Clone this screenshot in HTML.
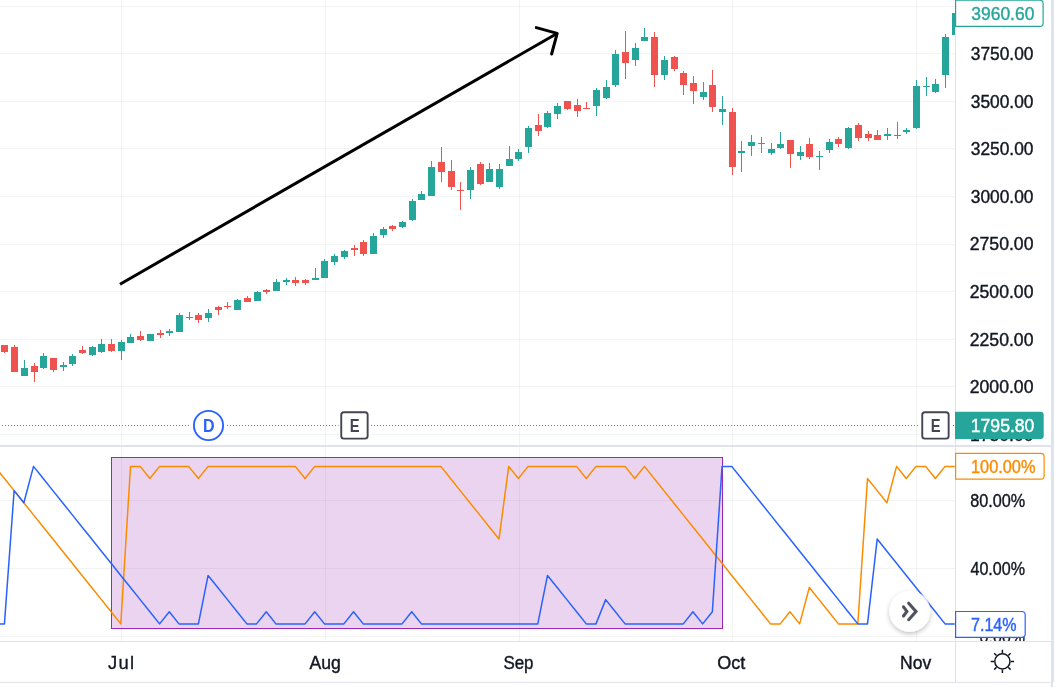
<!DOCTYPE html>
<html><head><meta charset="utf-8"><title>Chart</title>
<style>
html,body{margin:0;padding:0;background:#fff;}
body{width:1054px;height:687px;overflow:hidden;position:relative;font-family:"Liberation Sans",sans-serif;}
svg{position:absolute;left:0;top:0;display:block}
svg text{font-family:"Liberation Sans",sans-serif;}
</style></head><body>
<svg width="1054" height="687" viewBox="0 0 1054 687">
<defs>
<clipPath id="cp"><rect x="0" y="0" width="955" height="445"/></clipPath>
<clipPath id="ip"><rect x="0" y="447" width="955" height="194"/></clipPath>
<clipPath id="bc"><circle cx="909.8" cy="611.3" r="20.5"/></clipPath>
<clipPath id="a1"><rect x="956" y="0" width="95" height="445"/></clipPath>
<clipPath id="a2"><rect x="956" y="447" width="95" height="194"/></clipPath>
<filter id="sh" x="-40%" y="-40%" width="180%" height="180%"><feGaussianBlur in="SourceAlpha" stdDeviation="2.4"/><feOffset dy="1.5"/><feComponentTransfer><feFuncA type="linear" slope="0.25"/></feComponentTransfer><feMerge><feMergeNode/><feMergeNode in="SourceGraphic"/></feMerge></filter>
</defs>
<rect width="1054" height="687" fill="#fff"/>
<g fill="#2a2e39" fill-opacity="0.06" shape-rendering="crispEdges"><rect x="0" y="6" width="955" height="1"/><rect x="0" y="53" width="955" height="1"/><rect x="0" y="101" width="955" height="1"/><rect x="0" y="148" width="955" height="1"/><rect x="0" y="196" width="955" height="1"/><rect x="0" y="244" width="955" height="1"/><rect x="0" y="291" width="955" height="1"/><rect x="0" y="339" width="955" height="1"/><rect x="0" y="386" width="955" height="1"/><rect x="0" y="434" width="955" height="1"/><rect x="0" y="500" width="955" height="1"/><rect x="0" y="568" width="955" height="1"/><rect x="0" y="636" width="955" height="1"/><rect x="121" y="0" width="1" height="641"/><rect x="325" y="0" width="1" height="641"/><rect x="519" y="0" width="1" height="641"/><rect x="732" y="0" width="1" height="641"/><rect x="916" y="0" width="1" height="641"/></g>
<!-- dotted last-price line -->
<line x1="2" y1="425.5" x2="955" y2="425.5" stroke="#26a69a" stroke-width="1" stroke-dasharray="1 2" shape-rendering="crispEdges"/>
<g clip-path="url(#cp)" shape-rendering="crispEdges">
<path fill="#26a69a" d="M24 360h1v16h-1zM43 353h1v16h-1zM63 362h1v9h-1zM72 354h1v12h-1zM92 346h1v10h-1zM101 339h1v14h-1zM121 340h1v20h-1zM130 334h1v9h-1zM150 334h1v7h-1zM169 329h1v7h-1zM179 313h1v19h-1zM189 312h1v8h-1zM208 309h1v13h-1zM237 299h1v11h-1zM257 291h1v10h-1zM276 279h1v12h-1zM286 278h1v7h-1zM315 268h1v12h-1zM324 259h1v19h-1zM334 254h1v11h-1zM344 250h1v9h-1zM373 233h1v21h-1zM383 227h1v11h-1zM402 221h1v7h-1zM412 199h1v22h-1zM421 191h1v9h-1zM431 161h1v35h-1zM470 167h1v32h-1zM489 163h1v19h-1zM499 164h1v25h-1zM509 146h1v20h-1zM518 149h1v12h-1zM528 126h1v27h-1zM547 111h1v17h-1zM557 103h1v16h-1zM596 88h1v28h-1zM606 80h1v19h-1zM615 50h1v37h-1zM635 43h1v23h-1zM644 28h1v13h-1zM664 56h1v24h-1zM703 82h1v18h-1zM722 96h1v29h-1zM741 141h1v31h-1zM751 135h1v21h-1zM771 143h1v12h-1zM780 132h1v17h-1zM800 146h1v14h-1zM819 151h1v19h-1zM829 139h1v14h-1zM848 127h1v22h-1zM887 128h1v12h-1zM897 122h1v17h-1zM906 128h1v6h-1zM916 80h1v49h-1zM926 77h1v19h-1zM935 79h1v14h-1zM945 34h1v54h-1zM955 13h1v22h-1zM21 368h7v8h-7zM40 356h7v12h-7zM60 365h7v2h-7zM69 356h7v8h-7zM89 347h7v8h-7zM98 344h7v8h-7zM118 342h7v9h-7zM127 337h7v6h-7zM147 334h7v7h-7zM166 331h7v2h-7zM176 315h7v17h-7zM186 317h7v1h-7zM205 313h7v5h-7zM234 300h7v10h-7zM254 292h7v9h-7zM273 282h7v9h-7zM283 280h7v2h-7zM312 278h7v2h-7zM321 261h7v17h-7zM331 256h7v6h-7zM341 251h7v6h-7zM370 236h7v18h-7zM380 229h7v6h-7zM399 222h7v5h-7zM409 201h7v19h-7zM418 194h7v6h-7zM428 167h7v29h-7zM467 170h7v20h-7zM486 169h7v13h-7zM496 169h7v18h-7zM506 159h7v7h-7zM515 152h7v7h-7zM525 128h7v19h-7zM544 113h7v14h-7zM554 106h7v8h-7zM593 90h7v16h-7zM603 87h7v11h-7zM612 54h7v31h-7zM632 48h7v12h-7zM641 37h7v4h-7zM661 60h7v15h-7zM700 92h7v5h-7zM719 109h7v3h-7zM738 151h7v2h-7zM748 142h7v4h-7zM768 149h7v4h-7zM777 144h7v4h-7zM797 152h7v4h-7zM816 156h7v1h-7zM826 142h7v8h-7zM845 128h7v20h-7zM884 134h7v2h-7zM894 135h7v1h-7zM903 130h7v2h-7zM913 86h7v42h-7zM923 86h7v1h-7zM932 84h7v8h-7zM942 37h7v38h-7zM952 13h7v22h-7z"/>
<path fill="#ef5350" d="M4 345h1v8h-1zM14 345h1v27h-1zM34 363h1v19h-1zM53 358h1v14h-1zM82 346h1v8h-1zM111 339h1v13h-1zM140 331h1v10h-1zM160 330h1v8h-1zM198 313h1v10h-1zM218 306h1v9h-1zM227 302h1v7h-1zM247 296h1v6h-1zM266 289h1v5h-1zM295 277h1v9h-1zM305 279h1v6h-1zM354 245h1v11h-1zM363 240h1v16h-1zM392 225h1v6h-1zM441 147h1v35h-1zM451 160h1v30h-1zM460 182h1v28h-1zM480 162h1v23h-1zM538 114h1v22h-1zM567 101h1v9h-1zM577 99h1v18h-1zM586 102h1v7h-1zM625 31h1v48h-1zM654 32h1v55h-1zM674 56h1v15h-1zM683 71h1v24h-1zM693 76h1v28h-1zM712 70h1v42h-1zM732 108h1v67h-1zM761 137h1v16h-1zM790 140h1v28h-1zM809 138h1v21h-1zM838 137h1v10h-1zM858 123h1v18h-1zM868 131h1v10h-1zM877 130h1v10h-1zM1 345h7v7h-7zM11 347h7v25h-7zM31 366h7v6h-7zM50 358h7v12h-7zM79 350h7v3h-7zM108 344h7v7h-7zM137 336h7v4h-7zM157 333h7v2h-7zM195 315h7v5h-7zM215 307h7v3h-7zM224 306h7v1h-7zM244 298h7v4h-7zM263 290h7v2h-7zM292 280h7v3h-7zM302 280h7v3h-7zM351 248h7v2h-7zM360 242h7v12h-7zM389 226h7v3h-7zM438 162h7v10h-7zM448 171h7v16h-7zM457 190h7v1h-7zM477 164h7v20h-7zM535 125h7v6h-7zM564 101h7v8h-7zM574 105h7v6h-7zM583 108h7v1h-7zM622 52h7v11h-7zM651 37h7v38h-7zM671 57h7v12h-7zM680 73h7v12h-7zM690 83h7v8h-7zM709 85h7v22h-7zM729 112h7v55h-7zM758 143h7v1h-7zM787 140h7v14h-7zM806 144h7v13h-7zM835 139h7v5h-7zM855 125h7v13h-7zM865 134h7v4h-7zM874 135h7v5h-7z"/>
</g>
<!-- trend arrow -->
<g stroke="#000" stroke-width="3" fill="none">
<line x1="120" y1="284.2" x2="557" y2="33.5"/>
<polyline points="536.3,27.6 557.2,33.4 551.6,54" stroke-linecap="round" stroke-linejoin="round"/>
</g>
<!-- dividend / earnings markers -->
<g>
<rect x="189" y="424" width="38" height="3" fill="#fff"/>
<circle cx="208.5" cy="425.5" r="16.4" fill="#fff"/>
<circle cx="208.5" cy="425.5" r="14.6" fill="#fff" stroke="#2962ff" stroke-width="1.9"/>
<text transform="translate(202.94 431.90) scale(0.8573 1)" font-size="18.7" font-weight="700" fill="#2962ff" stroke="#2962ff" stroke-width="0">D</text>
<rect x="338.5" y="409.5" width="32" height="32" fill="#fff"/>
<rect x="341.25" y="412.2" width="26.4" height="26.4" rx="2.6" fill="#fff" stroke="#434651" stroke-width="1.9"/>
<text transform="translate(349.82 431.90) scale(0.7881 1)" font-size="18.7" font-weight="700" fill="#434651" stroke="#434651" stroke-width="0">E</text>
<rect x="919.5" y="409.5" width="32" height="32" fill="#fff"/>
<rect x="922.25" y="412.2" width="26.4" height="26.4" rx="2.6" fill="#fff" stroke="#434651" stroke-width="1.9"/>
<text transform="translate(930.82 431.90) scale(0.7881 1)" font-size="18.7" font-weight="700" fill="#434651" stroke="#434651" stroke-width="0">E</text>
</g>
<!-- indicator pane -->
<g clip-path="url(#ip)">
<rect x="111.5" y="457.5" width="611" height="171" fill="#9c27b0" fill-opacity="0.2" stroke="#9c27b0" stroke-width="1"/>
<polyline points="-5.27,466.39 4.43,478.50 14.13,490.62 23.82,502.74 33.52,514.85 43.22,526.97 52.92,539.08 62.62,551.19 72.31,563.31 82.01,575.42 91.71,587.54 101.41,599.65 111.10,611.77 120.80,623.88 130.50,466.39 140.19,466.39 149.89,478.50 159.59,466.39 169.29,466.39 178.99,466.39 188.68,466.39 198.38,478.50 208.08,466.39 217.78,466.39 227.47,466.39 237.17,466.39 246.87,466.39 256.56,466.39 266.26,466.39 275.96,466.39 285.66,466.39 295.36,466.39 305.05,478.50 314.75,466.39 324.45,466.39 334.14,466.39 343.84,466.39 353.54,466.39 363.24,466.39 372.94,466.39 382.63,466.39 392.33,466.39 402.03,466.39 411.73,466.39 421.42,466.39 431.12,466.39 440.82,466.39 450.51,478.50 460.21,490.62 469.91,502.74 479.61,514.85 489.31,526.97 499.00,539.08 508.70,466.39 518.40,478.50 528.09,466.39 537.79,466.39 547.49,466.39 557.19,466.39 566.88,466.39 576.58,466.39 586.28,478.50 595.98,466.39 605.67,466.39 615.37,466.39 625.07,466.39 634.77,478.50 644.46,466.39 654.16,478.50 663.86,490.62 673.56,502.74 683.25,514.85 692.95,526.97 702.65,539.08 712.35,551.19 722.04,563.31 731.74,575.42 741.44,587.54 751.14,599.65 760.83,611.77 770.53,623.88 780.23,623.88 789.93,611.77 799.62,623.88 809.32,587.54 819.02,599.65 828.72,611.77 838.41,623.88 848.11,623.88 857.81,623.88 867.51,478.50 877.20,490.62 886.90,502.74 896.60,466.39 906.30,478.50 915.99,466.39 925.69,466.39 935.39,478.50 945.09,466.39 954.78,466.39" fill="none" stroke="#fb8c00" stroke-width="1.5" stroke-linejoin="round"/>
<polyline points="-5.27,623.88 4.43,623.88 14.13,490.62 23.82,502.74 33.52,466.39 43.22,478.50 52.92,490.62 62.62,502.74 72.31,514.85 82.01,526.97 91.71,539.08 101.41,551.19 111.10,563.31 120.80,575.42 130.50,587.54 140.19,599.65 149.89,611.77 159.59,623.88 169.29,611.77 178.99,623.88 188.68,623.88 198.38,623.88 208.08,575.42 217.78,587.54 227.47,599.65 237.17,611.77 246.87,623.88 256.56,623.88 266.26,611.77 275.96,623.88 285.66,623.88 295.36,623.88 305.05,623.88 314.75,611.77 324.45,623.88 334.14,623.88 343.84,623.88 353.54,611.77 363.24,623.88 372.94,623.88 382.63,623.88 392.33,623.88 402.03,623.88 411.73,611.77 421.42,623.88 431.12,623.88 440.82,623.88 450.51,623.88 460.21,623.88 469.91,623.88 479.61,623.88 489.31,623.88 499.00,623.88 508.70,623.88 518.40,623.88 528.09,623.88 537.79,623.88 547.49,575.42 557.19,587.54 566.88,599.65 576.58,611.77 586.28,623.88 595.98,623.88 605.67,599.65 615.37,611.77 625.07,623.88 634.77,623.88 644.46,623.88 654.16,623.88 663.86,623.88 673.56,623.88 683.25,623.88 692.95,611.77 702.65,623.88 712.35,611.77 722.04,466.39 731.74,466.39 741.44,478.50 751.14,490.62 760.83,502.74 770.53,514.85 780.23,526.97 789.93,539.08 799.62,551.19 809.32,563.31 819.02,575.42 828.72,587.54 838.41,599.65 848.11,611.77 857.81,623.88 867.51,623.88 877.20,539.08 886.90,551.19 896.60,563.31 906.30,575.42 915.99,587.54 925.69,599.65 935.39,611.77 945.09,623.88 954.78,623.88" fill="none" stroke="#2962ff" stroke-width="1.5" stroke-linejoin="round"/>
</g>
<!-- scroll-to-latest button -->
<g filter="url(#sh)"><circle cx="909.8" cy="611.3" r="20.5" fill="#fff"/></g>
<g clip-path="url(#bc)"><polyline points="-5.27,623.88 4.43,623.88 14.13,490.62 23.82,502.74 33.52,466.39 43.22,478.50 52.92,490.62 62.62,502.74 72.31,514.85 82.01,526.97 91.71,539.08 101.41,551.19 111.10,563.31 120.80,575.42 130.50,587.54 140.19,599.65 149.89,611.77 159.59,623.88 169.29,611.77 178.99,623.88 188.68,623.88 198.38,623.88 208.08,575.42 217.78,587.54 227.47,599.65 237.17,611.77 246.87,623.88 256.56,623.88 266.26,611.77 275.96,623.88 285.66,623.88 295.36,623.88 305.05,623.88 314.75,611.77 324.45,623.88 334.14,623.88 343.84,623.88 353.54,611.77 363.24,623.88 372.94,623.88 382.63,623.88 392.33,623.88 402.03,623.88 411.73,611.77 421.42,623.88 431.12,623.88 440.82,623.88 450.51,623.88 460.21,623.88 469.91,623.88 479.61,623.88 489.31,623.88 499.00,623.88 508.70,623.88 518.40,623.88 528.09,623.88 537.79,623.88 547.49,575.42 557.19,587.54 566.88,599.65 576.58,611.77 586.28,623.88 595.98,623.88 605.67,599.65 615.37,611.77 625.07,623.88 634.77,623.88 644.46,623.88 654.16,623.88 663.86,623.88 673.56,623.88 683.25,623.88 692.95,611.77 702.65,623.88 712.35,611.77 722.04,466.39 731.74,466.39 741.44,478.50 751.14,490.62 760.83,502.74 770.53,514.85 780.23,526.97 789.93,539.08 799.62,551.19 809.32,563.31 819.02,575.42 828.72,587.54 838.41,599.65 848.11,611.77 857.81,623.88 867.51,623.88 877.20,539.08 886.90,551.19 896.60,563.31 906.30,575.42 915.99,587.54 925.69,599.65 935.39,611.77 945.09,623.88 954.78,623.88" fill="none" stroke="#2962ff" stroke-opacity="0.13" stroke-width="1.8"/></g>
<g fill="none" stroke="#50535e" stroke-width="3.1" stroke-linejoin="miter" stroke-linecap="round">
<polyline points="903.5,606.8 906.9,611.4 903.5,616"/><polyline points="908.7,603.2 916,611.4 908.7,619.7"/>
</g>
<!-- axes -->
<g shape-rendering="crispEdges">
<rect x="955" y="0" width="96" height="445" fill="#fff"/>
<rect x="955" y="447" width="96" height="194" fill="#fff"/>
<rect x="955" y="0" width="1" height="682" fill="#e1e2e4"/>
<rect x="0" y="641" width="1051" height="1" fill="#e1e2e4"/>
<rect x="0" y="445" width="1051" height="2" fill="#e0e3eb"/>
<rect x="0" y="682" width="1051" height="1" fill="#e0e3eb"/>
<rect x="1051" y="0" width="3" height="687" fill="#e0e3eb"/>
<rect x="1053" y="682" width="1" height="5" fill="#fff"/>
</g>
<g clip-path="url(#a1)"><text transform="translate(970.78 59.90) scale(0.9644 1)" font-size="18.0" font-weight="400" fill="#131722" stroke="#131722" stroke-width="0.4">3750.00</text><text transform="translate(970.78 107.50) scale(0.9644 1)" font-size="18.0" font-weight="400" fill="#131722" stroke="#131722" stroke-width="0.4">3500.00</text><text transform="translate(970.78 155.20) scale(0.9644 1)" font-size="18.0" font-weight="400" fill="#131722" stroke="#131722" stroke-width="0.4">3250.00</text><text transform="translate(970.78 202.80) scale(0.9644 1)" font-size="18.0" font-weight="400" fill="#131722" stroke="#131722" stroke-width="0.4">3000.00</text><text transform="translate(969.72 250.40) scale(0.9809 1)" font-size="18.0" font-weight="400" fill="#131722" stroke="#131722" stroke-width="0.4">2750.00</text><text transform="translate(969.72 298.10) scale(0.9809 1)" font-size="18.0" font-weight="400" fill="#131722" stroke="#131722" stroke-width="0.4">2500.00</text><text transform="translate(969.72 345.70) scale(0.9809 1)" font-size="18.0" font-weight="400" fill="#131722" stroke="#131722" stroke-width="0.4">2250.00</text><text transform="translate(969.72 393.30) scale(0.9809 1)" font-size="18.0" font-weight="400" fill="#131722" stroke="#131722" stroke-width="0.4">2000.00</text><text transform="translate(970.07 440.90) scale(0.9754 1)" font-size="18.0" font-weight="400" fill="#131722" stroke="#131722" stroke-width="0.4">1750.00</text></g>
<g clip-path="url(#a2)"><text transform="translate(970.15 506.80) scale(0.8996 1)" font-size="18.0" font-weight="400" fill="#131722" stroke="#131722" stroke-width="0.4">80.00%</text><text transform="translate(970.48 574.90) scale(0.8942 1)" font-size="18.0" font-weight="400" fill="#131722" stroke="#131722" stroke-width="0.4">40.00%</text><text transform="translate(979.62 642.80) scale(0.8905 1)" font-size="18.0" font-weight="400" fill="#131722" stroke="#131722" stroke-width="0.4">0.00%</text></g>
<text transform="translate(107.97 668.80) scale(1.0242 1)" font-size="18.0" font-weight="400" fill="#131722" stroke="#131722" stroke-width="0.3" letter-spacing="1.3">Jul</text><text transform="translate(309.50 668.80) scale(0.9801 1)" font-size="18.0" font-weight="400" fill="#131722" stroke="#131722" stroke-width="0.4">Aug</text><text transform="translate(503.42 668.80) scale(0.9394 1)" font-size="18.0" font-weight="400" fill="#131722" stroke="#131722" stroke-width="0.4">Sep</text><text transform="translate(717.18 668.80) scale(1.0029 1)" font-size="18.0" font-weight="400" fill="#131722" stroke="#131722" stroke-width="0.4">Oct</text><text transform="translate(900.10 668.80) scale(0.9748 1)" font-size="18.0" font-weight="400" fill="#131722" stroke="#131722" stroke-width="0.4">Nov</text>
<!-- price-scale labels -->
<path d="M955.60 0.20H1039.90a3.2 3.2 0 0 1 3.2 3.2V23.20a3.2 3.2 0 0 1 -3.2 3.2H955.60z" fill="#fff" stroke="#26a69a" stroke-width="1.2"/><text transform="translate(971.28 19.90) scale(0.9707 1)" font-size="18.0" font-weight="400" fill="#26a69a" stroke="#26a69a" stroke-width="0.4">3960.60</text><path d="M955 411.8H1040.5a3.2 3.2 0 0 1 3.2 3.2V435.7a3.2 3.2 0 0 1 -3.2 3.2H955z" fill="#26a69a"/><text transform="translate(970.77 432.00) scale(0.9785 1)" font-size="18.0" font-weight="400" fill="#fff" stroke="#fff" stroke-width="0.4">1795.80</text><path d="M955.60 453.40H1040.90a3.2 3.2 0 0 1 3.2 3.2V475.90a3.2 3.2 0 0 1 -3.2 3.2H955.60z" fill="#fff" stroke="#fb8c00" stroke-width="1.2"/><text transform="translate(971.06 473.10) scale(0.9065 1)" font-size="18.0" font-weight="400" fill="#fb8c00" stroke="#fb8c00" stroke-width="0.4">100.00%</text><path d="M955.60 611.50H1022.00a3.2 3.2 0 0 1 3.2 3.2V634.20a3.2 3.2 0 0 1 -3.2 3.2H955.60z" fill="#fff" stroke="#2962ff" stroke-width="1.2"/><text transform="translate(971.00 630.70) scale(0.8929 1)" font-size="18.0" font-weight="400" fill="#2962ff" stroke="#2962ff" stroke-width="0.4">7.14%</text>
<!-- settings gear -->
<g stroke="#131722" stroke-width="1.5" fill="none">
<circle cx="1002.4" cy="661.4" r="7.6"/>
<path d="M1002.4 653v-3.3M1002.4 669.8v3.3M994 661.4h-3.3M1010.8 661.4h3.3M996.5 655.5l-2.3-2.3M1008.3 655.5l2.3-2.3M996.5 667.3l-2.3 2.3M1008.3 667.3l2.3 2.3"/>
</g>
</svg>
</body></html>
